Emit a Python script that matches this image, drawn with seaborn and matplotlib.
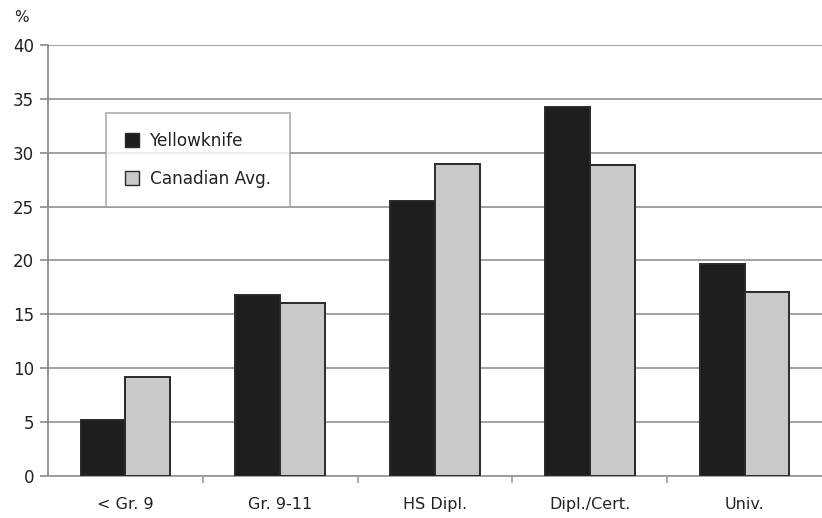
import matplotlib
matplotlib.use("Agg")
import matplotlib.pyplot as plt
import seaborn as sns
import pandas as pd
from matplotlib.ticker import FixedLocator
from matplotlib.patches import Patch

categories = ["< Gr. 9", "Gr. 9-11", "HS Dipl.", "Dipl./Cert.", "Univ."]
series_names = ["Yellowknife", "Canadian Avg."]
yellowknife = [5.2, 16.8, 25.5, 34.2, 19.7]
canadian_avg = [9.2, 16.1, 29.0, 28.9, 17.1]
y_ticks = [0, 5, 10, 15, 20, 25, 30, 35, 40]

df = pd.DataFrame({
    "category": categories * 2,
    "series": [series_names[0]] * len(categories) + [series_names[1]] * len(categories),
    "value": yellowknife + canadian_avg,
})

sns.set_theme(style="white")
plt.rcParams["font.family"] = ["DejaVu Sans"]
plt.rcParams["text.color"] = "#222222"

colors = ["#1e1e1e", "#c9c9c9"]

fig = plt.figure(figsize=(8.22, 5.18), dpi=100)
ax = fig.add_axes([48 / 822, 42 / 518, 774 / 822, 431 / 518])

sns.barplot(data=df, x="category", y="value", hue="series", order=categories,
            hue_order=series_names, palette=colors, width=0.58, saturation=1,
            edgecolor="#2a2a2a", linewidth=1.4, ax=ax, legend=False, zorder=3)

ax.set_ylim(0, 40)
ax.set_xlim(-0.5, 4.5)
ax.set_yticks(y_ticks)
ax.yaxis.grid(True, color="#9a9a9a", linewidth=1.3, zorder=0)
ax.set_axisbelow(True)

for side in ["top", "right"]:
    ax.spines[side].set_visible(False)
ax.spines["left"].set_color("#8a8a8a")
ax.spines["left"].set_linewidth(1.3)
ax.spines["bottom"].set_color("#9a9a9a")
ax.spines["bottom"].set_linewidth(1.3)

ax.set_xlabel("")
ax.set_ylabel("")
ax.tick_params(axis="y", which="major", left=True, length=6, width=1.2,
               color="#8a8a8a", labelsize=12, pad=4, labelcolor="#222222")
ax.tick_params(axis="x", which="major", bottom=False, labelsize=11.5,
               pad=9, labelcolor="#222222")
ax.xaxis.set_minor_locator(FixedLocator([0.5, 1.5, 2.5, 3.5]))
ax.tick_params(axis="x", which="minor", bottom=True, length=5, width=1.2,
               color="#9a9a9a")

fig.text(14 / 822, 1 - 17 / 518, "%", fontsize=11, va="center", ha="left",
         color="#222222")

handles = [Patch(facecolor=c, edgecolor="#2a2a2a", linewidth=1.0) for c in colors]
leg = ax.legend(handles, series_names, loc="upper left",
                bbox_to_anchor=(0.075, 0.842), frameon=True, fancybox=False,
                fontsize=12.2, handlelength=0.85, handleheight=0.85,
                labelspacing=1.2, borderpad=1.1, handletextpad=0.65,
                borderaxespad=0)
leg.get_frame().set_edgecolor("#9a9a9a")
leg.get_frame().set_linewidth(1.2)
leg.set_zorder(5)

fig.savefig("out.png", dpi=100)
